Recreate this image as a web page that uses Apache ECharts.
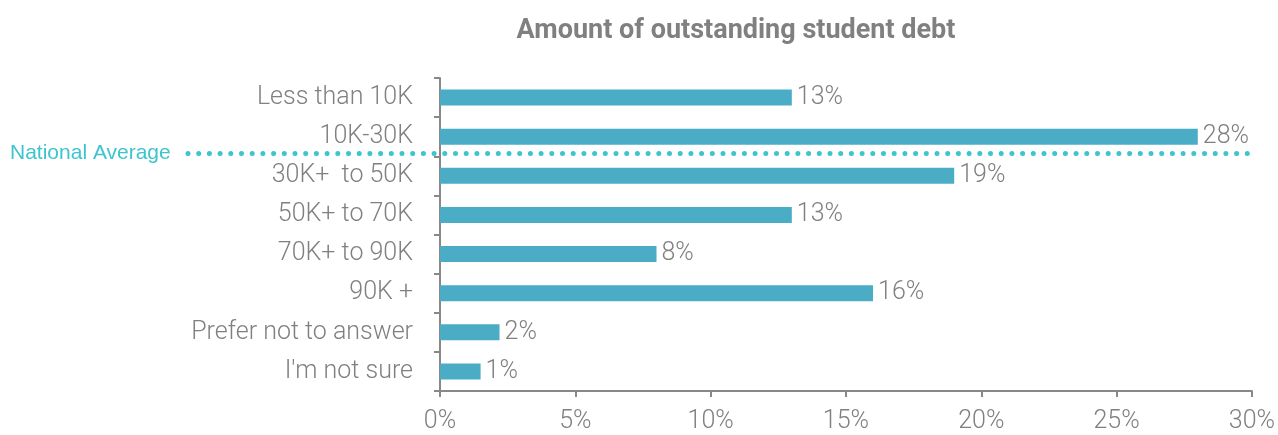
<!DOCTYPE html>
<html><head><meta charset="utf-8">
<script src="https://cdn.jsdelivr.net/npm/echarts@6/dist/echarts.min.js"></script>
<style>html,body{margin:0;padding:0;background:#fff}#c{width:1278px;height:435px}</style>
</head><body><div id="c"></div>
<script>
const categories = ["Less than 10K","10K-30K","30K+  to 50K","50K+ to 70K","70K+ to 90K","90K +","Prefer not to answer","I'm not sure"];
const values = [13, 28, 19, 13, 8, 16, 2.2, 1.5];
const valueLabels = ["13%","28%","19%","13%","8%","16%","2%","1%"];
const xTicks = [0, 5, 10, 15, 20, 25, 30];
const refLabel = "National Average";
const refBetween = ["10K-30K", "30K+  to 50K"];

const grey = '#808080';
const font = 'Roboto';
const chart = echarts.init(document.getElementById('c'));
chart.setOption({
  animation: false,
  title: {text: 'Amount of outstanding student debt', left: 731, textAlign: 'center', top: 13,
    textStyle: {fontFamily: font, fontSize: 27, fontWeight: 'bold', color: grey}},
  grid: {left: 440, right: 22, top: 78, bottom: 44},
  xAxis: {type: 'value', min: xTicks[0], max: xTicks[xTicks.length-1], interval: 5,
    splitLine: {show: false},
    axisLine: {show: true, lineStyle: {color: '#888', width: 2}},
    axisTick: {show: true, length: 6, lineStyle: {color: '#888', width: 2}},
    axisLabel: {formatter: v => v + '%', fontFamily: font, fontSize: 25, fontWeight: 300, color: grey, margin: 18}},
  yAxis: {type: 'category', data: categories, inverse: true,
    axisLine: {show: true, lineStyle: {color: '#888', width: 2}},
    axisTick: {show: true, length: 6, lineStyle: {color: '#888', width: 2}},
    axisLabel: {fontFamily: font, fontSize: 25, fontWeight: 300, color: grey, margin: 27}},
  series: [{type: 'bar', data: values, barWidth: 16,
    itemStyle: {color: '#4bacc6'},
    label: {show: true, position: 'right', distance: 5, formatter: p => valueLabels[p.dataIndex],
      fontFamily: font, fontSize: 25, fontWeight: 300, color: grey}}]
});
function drawRef(){
  const y1 = chart.convertToPixel({yAxisIndex: 0}, refBetween[0]);
  const y2 = chart.convertToPixel({yAxisIndex: 0}, refBetween[1]);
  const y = y1 + (y2 - y1) * 0.43;
  const xEnd = chart.convertToPixel({xAxisIndex: 0}, xTicks[xTicks.length-1]);
  chart.setOption({graphic: [
    {type: 'text', left: 10, top: y - 11, style: {text: refLabel, font: '21px "Liberation Sans", Arial, sans-serif', fill: '#3cc4cf'}},
    {type: 'line', shape: {x1: 188, y1: y, x2: xEnd + 1, y2: y}, z: 10,
      style: {stroke: '#3cc4cf', lineWidth: 5, lineDash: [0, 10.7], lineCap: 'round'}}
  ]});
}
drawRef();
</script></body></html>
